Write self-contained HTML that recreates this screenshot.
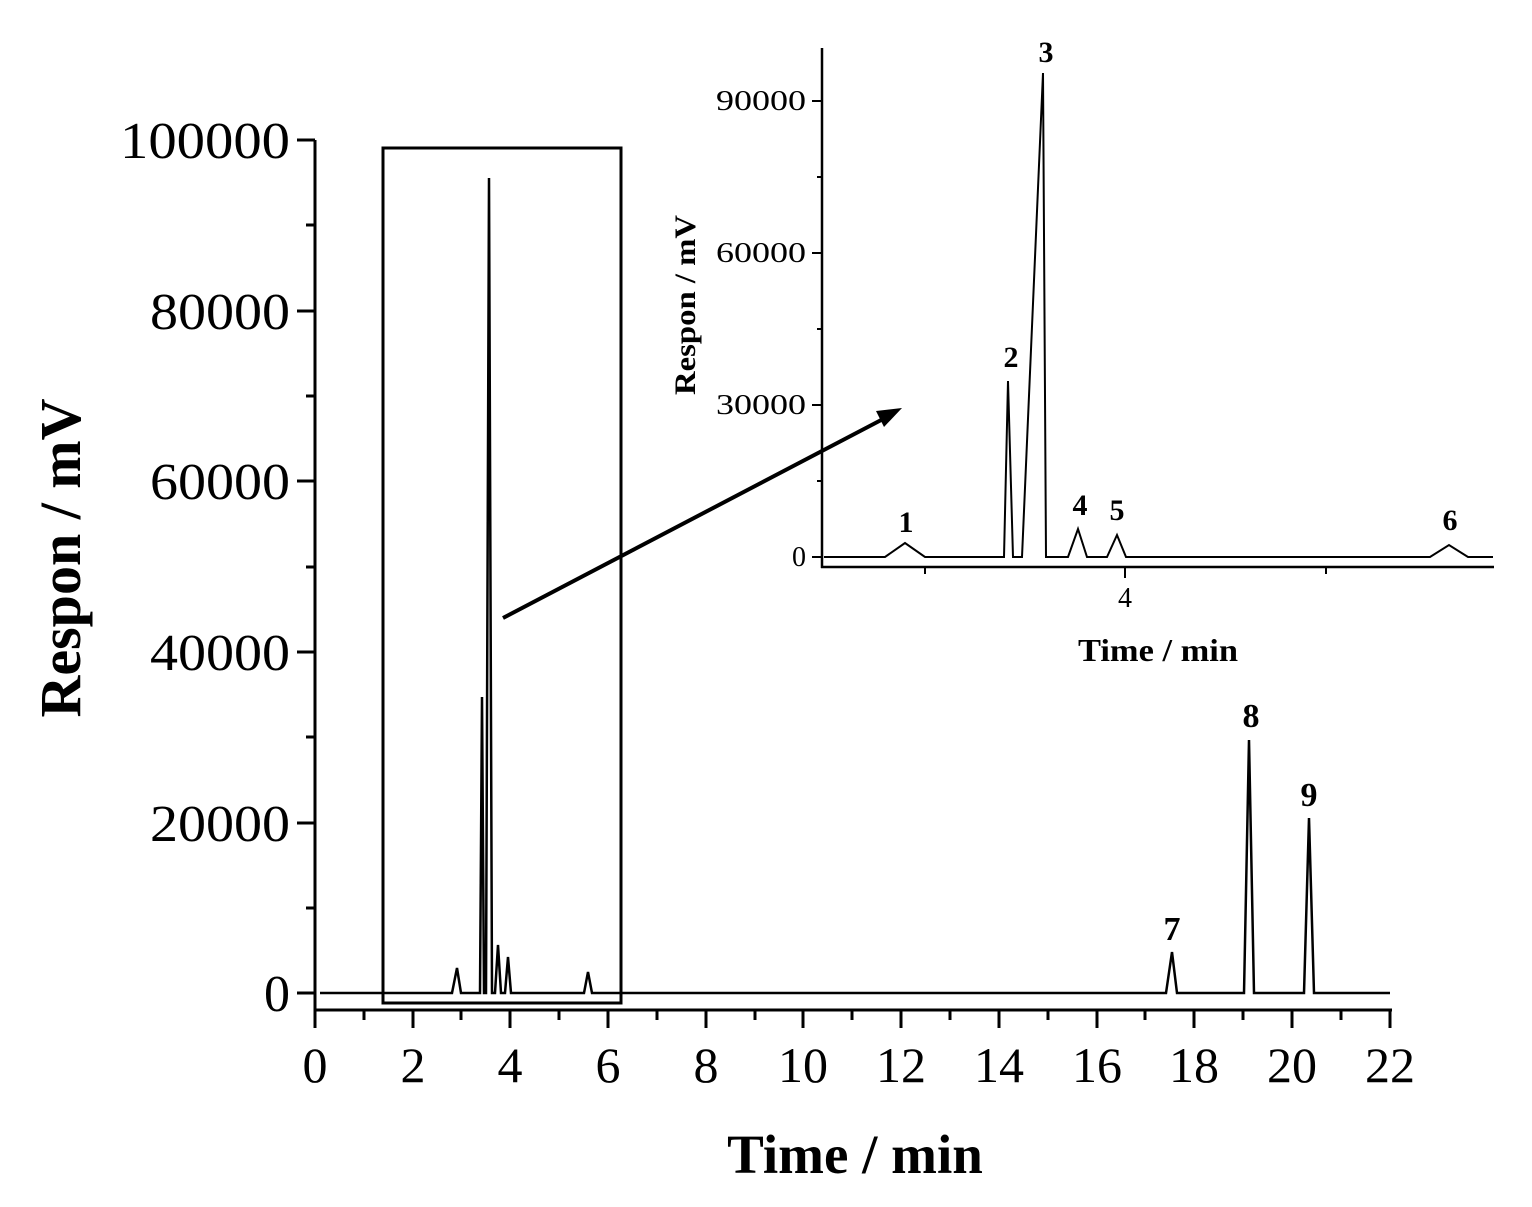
<!DOCTYPE html>
<html><head><style>body{margin:0;background:#fff}svg{display:block}</style></head><body>
<svg width="1532" height="1207" viewBox="0 0 1532 1207" xmlns="http://www.w3.org/2000/svg" font-family="Liberation Serif, serif">
<rect width="1532" height="1207" fill="#fff"/>
<g stroke="#000" fill="none">
<line x1="315" y1="140" x2="315" y2="1012" stroke-width="3"/>
<line x1="314" y1="1010" x2="1392" y2="1010" stroke-width="3"/>
<g stroke-width="3">
<line x1="297" y1="993" x2="315" y2="993"/><line x1="297" y1="823" x2="315" y2="823"/><line x1="297" y1="652" x2="315" y2="652"/><line x1="297" y1="481" x2="315" y2="481"/><line x1="297" y1="311" x2="315" y2="311"/><line x1="297" y1="140" x2="315" y2="140"/>
<line x1="306" y1="908" x2="315" y2="908"/><line x1="306" y1="737" x2="315" y2="737"/><line x1="306" y1="567" x2="315" y2="567"/><line x1="306" y1="396" x2="315" y2="396"/><line x1="306" y1="225" x2="315" y2="225"/>
</g>
<g stroke-width="3">
<line x1="315" y1="1010" x2="315" y2="1028"/><line x1="413" y1="1010" x2="413" y2="1028"/><line x1="510" y1="1010" x2="510" y2="1028"/><line x1="608" y1="1010" x2="608" y2="1028"/><line x1="706" y1="1010" x2="706" y2="1028"/><line x1="803" y1="1010" x2="803" y2="1028"/><line x1="901" y1="1010" x2="901" y2="1028"/><line x1="999" y1="1010" x2="999" y2="1028"/><line x1="1097" y1="1010" x2="1097" y2="1028"/><line x1="1194" y1="1010" x2="1194" y2="1028"/><line x1="1292" y1="1010" x2="1292" y2="1028"/><line x1="1390" y1="1010" x2="1390" y2="1028"/>
<line x1="364" y1="1010" x2="364" y2="1020"/><line x1="461" y1="1010" x2="461" y2="1020"/><line x1="559" y1="1010" x2="559" y2="1020"/><line x1="657" y1="1010" x2="657" y2="1020"/><line x1="755" y1="1010" x2="755" y2="1020"/><line x1="852" y1="1010" x2="852" y2="1020"/><line x1="950" y1="1010" x2="950" y2="1020"/><line x1="1048" y1="1010" x2="1048" y2="1020"/><line x1="1145" y1="1010" x2="1145" y2="1020"/><line x1="1243" y1="1010" x2="1243" y2="1020"/><line x1="1341" y1="1010" x2="1341" y2="1020"/>
</g>
<polyline stroke-width="2.5" points="320,993 452,993 457,968 461,993 480,993 482,697 484,993 486,993 489,178 492,993 495,993 498,945 501,993 505,993 508,957 511,993 584,993 588,972 592,993 1166,993 1172,952 1177,993 1244,993 1249,740 1254,993 1304,993 1309,818 1314,993 1390,993"/>
<rect x="383" y="148" width="238" height="855" stroke-width="3"/>
<line x1="503" y1="618" x2="885" y2="418" stroke-width="4"/>
<line x1="822" y1="48" x2="822" y2="568" stroke-width="2.5"/>
<line x1="821" y1="567" x2="1494" y2="567" stroke-width="2.5"/>
<g stroke-width="2">
<line x1="812" y1="557" x2="822" y2="557"/><line x1="812" y1="405" x2="822" y2="405"/><line x1="812" y1="253" x2="822" y2="253"/><line x1="812" y1="101" x2="822" y2="101"/>
<line x1="817" y1="481" x2="822" y2="481"/><line x1="817" y1="329" x2="822" y2="329"/><line x1="817" y1="177" x2="822" y2="177"/>
<line x1="1125" y1="567" x2="1125" y2="578"/><line x1="925" y1="567" x2="925" y2="574"/><line x1="1326" y1="567" x2="1326" y2="574"/>
</g>
<polyline stroke-width="2" points="824,557 885,557 905,543 925,557 1004,557 1008,381 1013,557 1022,557 1043,73 1046,557 1068,557 1078,529 1087,557 1107,557 1117,535 1126,557 1430,557 1449,545 1468,557 1493,557"/>
</g>
<polygon points="902,408 876,411 884,427" fill="#000"/>
<g font-size="52" text-anchor="end">
<text x="290" y="1011">0</text><text x="290" y="841" textLength="140" lengthAdjust="spacingAndGlyphs">20000</text><text x="290" y="670" textLength="140" lengthAdjust="spacingAndGlyphs">40000</text><text x="290" y="499" textLength="140" lengthAdjust="spacingAndGlyphs">60000</text><text x="290" y="329" textLength="140" lengthAdjust="spacingAndGlyphs">80000</text><text x="290" y="158" textLength="170" lengthAdjust="spacingAndGlyphs">100000</text>
</g>
<g font-size="50" text-anchor="middle">
<text x="315" y="1082">0</text><text x="413" y="1082">2</text><text x="510" y="1082">4</text><text x="608" y="1082">6</text><text x="706" y="1082">8</text><text x="803" y="1082">10</text><text x="901" y="1082">12</text><text x="999" y="1082">14</text><text x="1097" y="1082">16</text><text x="1194" y="1082">18</text><text x="1292" y="1082">20</text><text x="1390" y="1082">22</text>
</g>
<text x="855" y="1173" font-size="55" font-weight="bold" text-anchor="middle">Time / min</text>
<text transform="translate(80,558) rotate(-90)" font-size="58" font-weight="bold" text-anchor="middle">Respon / mV</text>
<g font-size="34" font-weight="bold" text-anchor="middle">
<text x="1172" y="940">7</text><text x="1251" y="727">8</text><text x="1309" y="806">9</text>
</g>
<g font-size="28" text-anchor="end">
<text x="806" y="566">0</text><text x="806" y="414" textLength="90" lengthAdjust="spacingAndGlyphs">30000</text><text x="806" y="262" textLength="90" lengthAdjust="spacingAndGlyphs">60000</text><text x="806" y="110" textLength="90" lengthAdjust="spacingAndGlyphs">90000</text>
</g>
<text x="1125" y="607" font-size="28" text-anchor="middle">4</text>
<text x="1158" y="661" font-size="32" font-weight="bold" text-anchor="middle" textLength="160" lengthAdjust="spacingAndGlyphs">Time / min</text>
<text transform="translate(695,305) rotate(-90)" font-size="30" font-weight="bold" text-anchor="middle" textLength="180" lengthAdjust="spacingAndGlyphs">Respon / mV</text>
<g font-size="30" font-weight="bold" text-anchor="middle">
<text x="906" y="532">1</text><text x="1011" y="367">2</text><text x="1046" y="62">3</text><text x="1080" y="515">4</text><text x="1117" y="520">5</text><text x="1450" y="530">6</text>
</g>
</svg>
</body></html>
